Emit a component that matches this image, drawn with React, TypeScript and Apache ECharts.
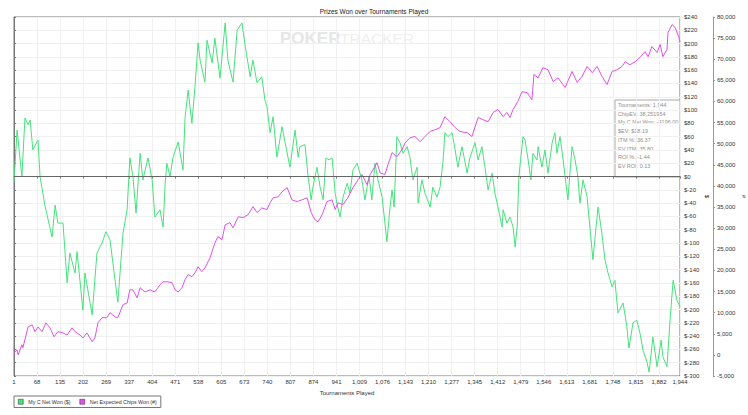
import React, { useEffect, useRef } from "react";
import * as echarts from "echarts";

const chartTitle = "Prizes Won over Tournaments Played";
const xAxisName = "Tournaments Played";
const netWonName = "My C Net Won ($)";
const chipsName = "Net Expected Chips Won (#)";
const statLines = [
  "Tournaments: 1,944",
  "ChipEV: 38,251954",
  "My C Net Won: -$196.00",
  "$EV: $18.19",
  "ITM %: 36.37",
  "EV ITM: 35.80",
  "ROI %: -1.44",
  "EV ROI: 0.13",
];

// X-axis tick step (tournaments) and last tournament
const xTickStep = 67.2;
const lastTournament = 1944;

// Tournament number and cumulative $ won
const netWonT = [
  1, 10, 24, 33, 42, 48, 56, 71, 77, 91, 112, 121, 129, 144, 156, 164, 179, 185, 202, 208,
  229, 243, 258, 269, 281, 304, 319, 331, 339, 348, 357, 369, 377, 392, 404, 412, 427, 436, 442, 447,
  456, 465, 480, 494, 500, 509, 520, 529, 538, 544, 558, 564, 579, 587, 602, 617, 625, 640, 652, 666,
  675, 690, 698, 710, 724, 733, 739, 748, 757, 768, 783, 792, 806, 821, 830, 835, 850, 859, 868, 873,
  885, 894, 903, 911, 920, 929, 938, 943, 952, 961, 973, 981, 990, 1002, 1016, 1025, 1031, 1037, 1045, 1054,
  1063, 1075, 1080, 1089, 1098, 1104, 1110, 1118, 1127, 1136, 1148, 1156, 1165, 1177, 1180, 1191, 1200, 1215, 1223, 1235,
  1244, 1253, 1258, 1267, 1279, 1288, 1296, 1308, 1323, 1331, 1346, 1355, 1366, 1375, 1384, 1396, 1404, 1413, 1425, 1428,
  1439, 1448, 1457, 1463, 1469, 1474, 1486, 1492, 1501, 1509, 1515, 1527, 1530, 1541, 1550, 1559, 1571, 1579, 1585, 1594,
  1603, 1617, 1629, 1638, 1646, 1652, 1661, 1673, 1681, 1690, 1699, 1705, 1716, 1725, 1734, 1746, 1754, 1763, 1778, 1789,
  1795, 1807, 1818, 1827, 1836, 1848, 1854, 1865, 1877, 1889, 1894, 1906, 1915, 1924, 1935, 1944,
];
const netWonV = [
  -8, 70, 0, 88, 78, 85, 40, 55, 0, -43, -91, -43, -70, -70, -160, -115, -145, -113, -201, -145,
  -208, -115, -100, -83, -95, -189, -85, -50, 28, 0, -55, 35, -5, 28, -5, -61, -50, -76, -10, 20,
  0, 29, 52, 10, 88, 130, 80, 135, 201, 175, 142, 205, 171, 208, 148, 231, 175, 142, 220, 231,
  198, 150, 175, 141, 150, 115, 105, 66, 90, 29, 75, 51, 14, 70, 29, 45, 48, 0, -35, -16,
  14, -16, -35, 28, 25, 28, -25, -40, -61, -31, -10, -25, 10, 20, -5, -35, -16, 0, -35, 20,
  -5, -31, -55, -98, -46, -20, -46, 60, 51, 35, 45, 29, -5, 14, -40, -5, -25, -46, -16, -31,
  -16, 25, 66, 60, 66, 40, 14, 45, 5, 28, 51, 25, 45, 14, -20, 5, -25, -46, -76, -50,
  -70, -61, -76, -106, -76, 0, 60, 55, 25, -5, 35, 25, 45, 14, 40, 5, 51, 66, 35, 60,
  25, -35, 45, 25, 0, -40, -5, -31, -76, -125, -76, -46, -85, -125, -145, -166, -156, -205, -190, -226,
  -258, -220, -216, -235, -261, -280, -294, -241, -286, -246, -271, -286, -216, -156, -186, -196,
];

// Tournament number and net expected chips won
const chipsT = [
  1, 10, 13, 24, 27, 42, 54, 62, 71, 83, 94, 106, 118, 129, 144, 156, 170, 179, 194, 202,
  214, 229, 237, 246, 258, 272, 281, 296, 304, 319, 331, 339, 348, 360, 369, 383, 398, 412, 427, 436,
  450, 462, 471, 480, 491, 500, 509, 520, 529, 538, 549, 558, 573, 587, 596, 608, 617, 631, 640, 655,
  669, 684, 698, 710, 724, 739, 748, 757, 771, 783, 798, 812, 827, 841, 856, 868, 879, 888, 900, 914,
  929, 938, 946, 961, 975, 990, 1005, 1016, 1031, 1040, 1048, 1060, 1069, 1083, 1092, 1104, 1118, 1133, 1142, 1156,
  1171, 1186, 1200, 1215, 1229, 1244, 1258, 1273, 1288, 1302, 1323, 1337, 1355, 1369, 1384, 1399, 1413, 1428, 1439, 1448,
  1457, 1471, 1483, 1498, 1512, 1518, 1530, 1544, 1559, 1574, 1588, 1609, 1629, 1644, 1658, 1673, 1688, 1702, 1717, 1731,
  1746, 1760, 1775, 1784, 1798, 1813, 1827, 1842, 1851, 1862, 1877, 1886, 1894, 1906, 1909, 1921, 1930, 1941, 1944,
];
const chipsV = [
  500, 1200, 0, 2400, 1700, 6600, 7100, 5500, 6600, 5500, 7600, 6400, 4300, 5500, 5200, 4700, 6400, 5500, 4700, 4000,
  5200, 3100, 4000, 7600, 8800, 8800, 10000, 9000, 8800, 11900, 12300, 15400, 15400, 13500, 15900, 14900, 15400, 14900, 16600, 17300,
  17300, 17100, 15400, 14900, 15900, 17800, 19000, 18500, 19400, 20900, 19700, 20600, 23000, 26500, 28000, 27300, 30800, 31300, 30100, 32700,
  32500, 33200, 35100, 33700, 34800, 34400, 36000, 37200, 37400, 38600, 39600, 36700, 36300, 36700, 37200, 33700, 32000, 31500, 33200, 36300,
  36700, 34400, 36000, 35600, 37200, 39600, 41500, 42700, 40300, 42700, 43800, 45500, 43100, 42700, 45000, 47900, 46900, 48600, 50200, 51400,
  51700, 50500, 51700, 52900, 53300, 53800, 56400, 55200, 53800, 52900, 52600, 51700, 56200, 55700, 55200, 57400, 58100, 56400, 57400, 56200,
  58100, 60000, 62300, 62100, 60400, 66400, 65600, 68000, 67500, 64700, 65600, 63300, 67100, 64500, 65900, 68300, 66800, 68300, 65900, 64000,
  67100, 67500, 68300, 69400, 68700, 69400, 70400, 71800, 70600, 73000, 71600, 73500, 70600, 72300, 76300, 78200, 77500, 75100, 74000,
];

const FONT = '"Liberation Sans", Arial, sans-serif';
const GREEN = "#45e27b";
const MAGENTA = "#df52e6";

const dollarFmt = (v: number) => (v < 0 ? "$-" + Math.abs(v) : "$" + v);

export default function App() {
  const ref = useRef<HTMLDivElement>(null);

  useEffect(() => {
    if (!ref.current) return;
    const chart = echarts.init(ref.current, undefined, { renderer: "svg" });
    const labelStyle = { fontSize: 6, color: "#333", fontFamily: FONT };

    const option: any = {
      animation: false,
      backgroundColor: "#ffffff",
      textStyle: { fontFamily: FONT },
      title: {
        text: chartTitle,
        left: "center",
        top: 3,
        textStyle: { fontSize: 6.5, fontWeight: "normal", color: "#222", fontFamily: FONT },
      },
      legend: {
        left: 14,
        top: 396,
        orient: "horizontal",
        icon: "rect",
        itemWidth: 5,
        itemHeight: 5,
        itemGap: 9,
        padding: [3, 4, 3, 4],
        borderColor: "#777",
        borderWidth: 1,
        textStyle: { fontSize: 5.3, color: "#333", fontFamily: FONT },
        data: [
          { name: netWonName, itemStyle: { color: GREEN, borderColor: "#333", borderWidth: 0.5 } },
          { name: chipsName, itemStyle: { color: MAGENTA, borderColor: "#333", borderWidth: 0.5 } },
        ],
      },
      grid: {
        left: 14,
        right: 68,
        top: 17,
        bottom: 39,
        containLabel: false,
        outerBoundsMode: "none",
        show: true,
        borderColor: "#777",
        borderWidth: 1,
      },
      xAxis: {
        type: "value",
        min: 0,
        max: lastTournament - 1,
        interval: xTickStep,
        name: xAxisName,
        nameLocation: "middle",
        nameGap: 13,
        nameTextStyle: { fontSize: 6, color: "#333", fontFamily: FONT },
        axisLine: { show: true, lineStyle: { color: "#777", width: 1 } },
        axisTick: { show: true, length: 2, lineStyle: { color: "#777" } },
        axisLabel: {
          ...labelStyle,
          margin: 3,
          hideOverlap: false,
          showMaxLabel: true,
          formatter: (v: number) => Math.floor(v + 1 + 1e-6).toLocaleString("en-US"),
        },
        splitLine: { show: true, lineStyle: { color: "#f0f0f0", width: 1 } },
      },
      yAxis: [
        {
          type: "value",
          position: "right",
          min: -300,
          max: 240,
          interval: 20,
          name: "$",
          nameLocation: "middle",
          nameGap: 24,
          nameRotate: -90,
          nameMoveOverlap: false,
          nameTextStyle: { fontSize: 6, color: "#333", fontFamily: FONT },
          axisLine: { show: true, lineStyle: { color: "#777", width: 1 } },
          axisTick: { show: true, length: 2, lineStyle: { color: "#777" } },
          axisLabel: { ...labelStyle, margin: 4, formatter: dollarFmt },
          splitLine: { show: true, lineStyle: { color: "#f0f0f0", width: 1 } },
        },
        {
          type: "value",
          position: "right",
          offset: 33,
          min: -5000,
          max: 80000,
          interval: 5000,
          name: "#",
          nameLocation: "middle",
          nameGap: 28,
          nameRotate: -90,
          nameMoveOverlap: false,
          nameTextStyle: { fontSize: 6, color: "#333", fontFamily: FONT },
          axisLine: { show: true, lineStyle: { color: "#999", width: 1 } },
          axisTick: { show: true, length: 2, lineStyle: { color: "#999" } },
          axisLabel: {
            ...labelStyle,
            margin: 4,
            formatter: (v: number) => v.toLocaleString("en-US"),
          },
          splitLine: { show: false },
        },
      ],
      series: [
        {
          name: netWonName,
          type: "line",
          yAxisIndex: 0,
          showSymbol: false,
          symbol: "none",
          color: GREEN,
          lineStyle: { color: GREEN, width: 1 },
          z: 3,
          data: netWonT.map((t, i) => [t - 1, netWonV[i]]),
          markLine: {
            silent: true,
            symbol: ["none", "none"],
            label: { show: false },
            lineStyle: { color: "#666", width: 1, type: "solid" },
            data: [{ yAxis: 0 }],
          },
        },
        {
          name: chipsName,
          type: "line",
          yAxisIndex: 1,
          showSymbol: false,
          symbol: "none",
          color: MAGENTA,
          lineStyle: { color: MAGENTA, width: 1 },
          z: 3,
          data: chipsT.map((t, i) => [t - 1, chipsV[i]]),
        },
      ],
      graphic: [
        {
          type: "text",
          left: 280,
          top: 30,
          z: 0,
          silent: true,
          style: { text: "POKER", font: 'bold 17px "Liberation Sans", Arial, sans-serif', fill: "#e6e6e6" },
        },
        {
          type: "text",
          left: 340,
          top: 30,
          z: 0,
          silent: true,
          style: { text: "TRACKER", font: '15.5px "Liberation Sans", Arial, sans-serif', fill: "#efefef" },
        },
        {
          type: "group",
          z: 50,
          silent: true,
          children: [
            {
              type: "rect",
              shape: { x: 615, y: 100, width: 65, height: 77 },
              style: { fill: "#ffffff", stroke: "#aaaaaa", lineWidth: 1 },
            },
            ...statLines.map((s, i) => ({
              type: "text",
              x: 618,
              y: 105 + i * 8.7,
              style: {
                text: s,
                font: '5.5px "Liberation Sans", Arial, sans-serif',
                fill: "#909090",
                textVerticalAlign: "middle",
              },
            })),
          ],
        },
      ],
    };

    chart.setOption(option);
    return () => chart.dispose();
  }, []);

  return (
    <div
      ref={ref}
      style={{ position: "fixed", left: 0, top: 0, width: 748, height: 415, background: "#fff" }}
    />
  );
}
